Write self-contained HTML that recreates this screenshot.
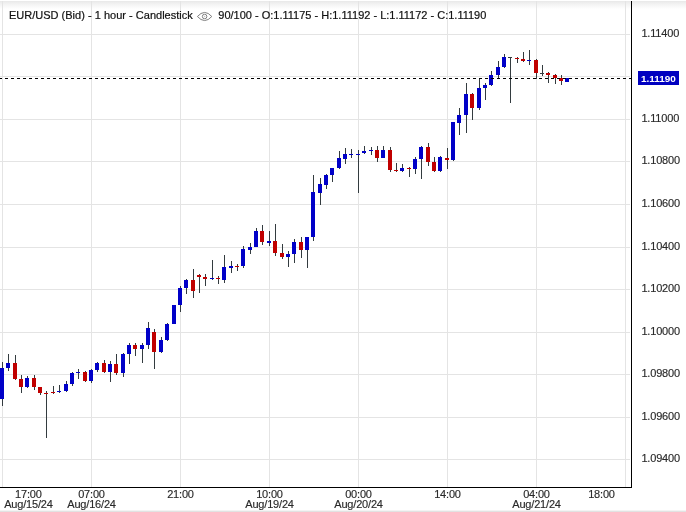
<!DOCTYPE html>
<html><head><meta charset="utf-8"><title>EUR/USD</title>
<style>
html,body{margin:0;padding:0;background:#fff;}
body{will-change:transform;width:686px;height:512px;position:relative;overflow:hidden;font-family:"Liberation Sans",sans-serif;font-size:11px;color:#222;}
#top{position:absolute;left:0;top:1px;width:686px;height:8px;background:linear-gradient(#e8e8e8 0%,#efefef 25%,#f7f7f7 60%,#ffffff 100%);}
#bot{position:absolute;left:0;top:510px;width:686px;height:2px;background:linear-gradient(#f6f6f6 0%,#f0f0f0 50%,#e4e4e4 51%,#e0e0e0 100%);}
svg{position:absolute;left:0;top:0;}
.t{position:absolute;top:9px;line-height:12px;white-space:pre;color:#111;-webkit-text-stroke:0.2px #111;letter-spacing:0.03px;}
.yl{position:absolute;left:641.4px;letter-spacing:-0.17px;line-height:12px;color:#2a2a2a;-webkit-text-stroke:0.15px #2a2a2a;white-space:pre;}
.xl{position:absolute;top:489px;width:80px;text-align:center;letter-spacing:-0.18px;line-height:10px;color:#2a2a2a;-webkit-text-stroke:0.15px #2a2a2a;white-space:pre;}
#pl{position:absolute;left:638px;top:71px;width:41px;height:14px;background:#0000c0;color:#fff;font-weight:bold;font-size:9.95px;line-height:15px;text-align:center;}
</style></head><body>
<div id="top"></div>
<svg width="686" height="512" viewBox="0 0 686 512" shape-rendering="crispEdges">
<rect x="2" y="1" width="1" height="486" fill="#e4e4e4"/>
<rect x="91" y="1" width="1" height="486" fill="#e4e4e4"/>
<rect x="180" y="1" width="1" height="486" fill="#e4e4e4"/>
<rect x="269" y="1" width="1" height="486" fill="#e4e4e4"/>
<rect x="358" y="1" width="1" height="486" fill="#e4e4e4"/>
<rect x="447" y="1" width="1" height="486" fill="#e4e4e4"/>
<rect x="536" y="1" width="1" height="486" fill="#e4e4e4"/>
<rect x="625" y="1" width="1" height="486" fill="#e4e4e4"/>
<rect x="0" y="34" width="630" height="1" fill="#e4e4e4"/>
<rect x="0" y="76" width="630" height="1" fill="#e4e4e4"/>
<rect x="0" y="119" width="630" height="1" fill="#e4e4e4"/>
<rect x="0" y="161" width="630" height="1" fill="#e4e4e4"/>
<rect x="0" y="204" width="630" height="1" fill="#e4e4e4"/>
<rect x="0" y="247" width="630" height="1" fill="#e4e4e4"/>
<rect x="0" y="289" width="630" height="1" fill="#e4e4e4"/>
<rect x="0" y="332" width="630" height="1" fill="#e4e4e4"/>
<rect x="0" y="374" width="630" height="1" fill="#e4e4e4"/>
<rect x="0" y="417" width="630" height="1" fill="#e4e4e4"/>
<rect x="0" y="459" width="630" height="1" fill="#e4e4e4"/>
<rect x="2" y="362" width="1" height="44" fill="#333b3f"/>
<rect x="0" y="368" width="4" height="31" fill="#0000c8"/>
<rect x="8" y="354" width="1" height="17" fill="#333b3f"/>
<rect x="6" y="363" width="4" height="5" fill="#0000c8"/>
<rect x="15" y="355" width="1" height="25" fill="#333b3f"/>
<rect x="13" y="363" width="4" height="16" fill="#c00000"/>
<rect x="21" y="375" width="1" height="18" fill="#333b3f"/>
<rect x="19" y="379" width="4" height="8" fill="#c00000"/>
<rect x="27" y="376" width="1" height="12" fill="#333b3f"/>
<rect x="25" y="378" width="4" height="9" fill="#0000c8"/>
<rect x="34" y="375" width="1" height="15" fill="#333b3f"/>
<rect x="32" y="378" width="4" height="9" fill="#c00000"/>
<rect x="40" y="387" width="1" height="8" fill="#333b3f"/>
<rect x="38" y="387" width="4" height="6" fill="#c00000"/>
<rect x="46" y="391" width="1" height="47" fill="#333b3f"/>
<rect x="44" y="393" width="4" height="1" fill="#c00000"/>
<rect x="53" y="386" width="1" height="8" fill="#333b3f"/>
<rect x="51" y="392" width="4" height="1" fill="#c00000"/>
<rect x="59" y="385" width="1" height="8" fill="#333b3f"/>
<rect x="57" y="391" width="4" height="1" fill="#0000c8"/>
<rect x="66" y="381" width="1" height="11" fill="#333b3f"/>
<rect x="64" y="384" width="4" height="7" fill="#0000c8"/>
<rect x="72" y="372" width="1" height="14" fill="#333b3f"/>
<rect x="70" y="373" width="4" height="11" fill="#0000c8"/>
<rect x="78" y="369" width="1" height="10" fill="#333b3f"/>
<rect x="76" y="372" width="4" height="1" fill="#0000c8"/>
<rect x="85" y="371" width="1" height="11" fill="#333b3f"/>
<rect x="83" y="372" width="4" height="9" fill="#c00000"/>
<rect x="91" y="369" width="1" height="14" fill="#333b3f"/>
<rect x="89" y="370" width="4" height="11" fill="#0000c8"/>
<rect x="97" y="362" width="1" height="10" fill="#333b3f"/>
<rect x="95" y="363" width="4" height="7" fill="#0000c8"/>
<rect x="104" y="360" width="1" height="13" fill="#333b3f"/>
<rect x="102" y="363" width="4" height="9" fill="#c00000"/>
<rect x="110" y="361" width="1" height="21" fill="#333b3f"/>
<rect x="108" y="364" width="4" height="8" fill="#0000c8"/>
<rect x="116" y="354" width="1" height="21" fill="#333b3f"/>
<rect x="114" y="364" width="4" height="9" fill="#c00000"/>
<rect x="123" y="353" width="1" height="24" fill="#333b3f"/>
<rect x="121" y="354" width="4" height="19" fill="#0000c8"/>
<rect x="129" y="343" width="1" height="21" fill="#333b3f"/>
<rect x="127" y="345" width="4" height="9" fill="#0000c8"/>
<rect x="135" y="343" width="1" height="13" fill="#333b3f"/>
<rect x="133" y="345" width="4" height="4" fill="#c00000"/>
<rect x="142" y="343" width="1" height="20" fill="#333b3f"/>
<rect x="140" y="345" width="4" height="4" fill="#0000c8"/>
<rect x="148" y="322" width="1" height="27" fill="#333b3f"/>
<rect x="146" y="328" width="4" height="17" fill="#0000c8"/>
<rect x="154" y="329" width="1" height="40" fill="#333b3f"/>
<rect x="152" y="332" width="4" height="20" fill="#c00000"/>
<rect x="161" y="337" width="1" height="16" fill="#333b3f"/>
<rect x="159" y="340" width="4" height="12" fill="#0000c8"/>
<rect x="167" y="323" width="1" height="18" fill="#333b3f"/>
<rect x="165" y="324" width="4" height="16" fill="#0000c8"/>
<rect x="174" y="305" width="1" height="19" fill="#333b3f"/>
<rect x="172" y="305" width="4" height="19" fill="#0000c8"/>
<rect x="180" y="286" width="1" height="26" fill="#333b3f"/>
<rect x="178" y="288" width="4" height="17" fill="#0000c8"/>
<rect x="186" y="279" width="1" height="15" fill="#333b3f"/>
<rect x="184" y="280" width="4" height="8" fill="#0000c8"/>
<rect x="193" y="269" width="1" height="29" fill="#333b3f"/>
<rect x="191" y="280" width="4" height="11" fill="#c00000"/>
<rect x="199" y="274" width="1" height="19" fill="#333b3f"/>
<rect x="197" y="275" width="4" height="2" fill="#c00000"/>
<rect x="205" y="274" width="1" height="12" fill="#333b3f"/>
<rect x="203" y="277" width="4" height="2" fill="#c00000"/>
<rect x="212" y="260" width="1" height="20" fill="#333b3f"/>
<rect x="210" y="278" width="4" height="1" fill="#0000c8"/>
<rect x="218" y="276" width="1" height="8" fill="#333b3f"/>
<rect x="216" y="278" width="4" height="1" fill="#c00000"/>
<rect x="224" y="255" width="1" height="28" fill="#333b3f"/>
<rect x="222" y="267" width="4" height="13" fill="#0000c8"/>
<rect x="231" y="261" width="1" height="12" fill="#333b3f"/>
<rect x="229" y="266" width="4" height="2" fill="#0000c8"/>
<rect x="237" y="264" width="1" height="7" fill="#333b3f"/>
<rect x="235" y="266" width="4" height="1" fill="#c00000"/>
<rect x="243" y="246" width="1" height="22" fill="#333b3f"/>
<rect x="241" y="249" width="4" height="17" fill="#0000c8"/>
<rect x="250" y="243" width="1" height="11" fill="#333b3f"/>
<rect x="248" y="247" width="4" height="3" fill="#0000c8"/>
<rect x="256" y="228" width="1" height="19" fill="#333b3f"/>
<rect x="254" y="231" width="4" height="16" fill="#0000c8"/>
<rect x="262" y="225" width="1" height="20" fill="#333b3f"/>
<rect x="260" y="231" width="4" height="11" fill="#c00000"/>
<rect x="269" y="231" width="1" height="15" fill="#333b3f"/>
<rect x="267" y="241" width="4" height="2" fill="#0000c8"/>
<rect x="275" y="224" width="1" height="32" fill="#333b3f"/>
<rect x="273" y="241" width="4" height="12" fill="#c00000"/>
<rect x="282" y="244" width="1" height="15" fill="#333b3f"/>
<rect x="280" y="253" width="4" height="4" fill="#c00000"/>
<rect x="288" y="251" width="1" height="16" fill="#333b3f"/>
<rect x="286" y="254" width="4" height="3" fill="#0000c8"/>
<rect x="294" y="239" width="1" height="24" fill="#333b3f"/>
<rect x="292" y="242" width="4" height="12" fill="#0000c8"/>
<rect x="301" y="237" width="1" height="21" fill="#333b3f"/>
<rect x="299" y="242" width="4" height="8" fill="#c00000"/>
<rect x="307" y="237" width="1" height="31" fill="#333b3f"/>
<rect x="305" y="237" width="4" height="13" fill="#0000c8"/>
<rect x="313" y="175" width="1" height="66" fill="#333b3f"/>
<rect x="311" y="192" width="4" height="45" fill="#0000c8"/>
<rect x="320" y="178" width="1" height="27" fill="#333b3f"/>
<rect x="318" y="184" width="4" height="9" fill="#0000c8"/>
<rect x="326" y="174" width="1" height="15" fill="#333b3f"/>
<rect x="324" y="175" width="4" height="10" fill="#0000c8"/>
<rect x="332" y="168" width="1" height="14" fill="#333b3f"/>
<rect x="330" y="168" width="4" height="7" fill="#0000c8"/>
<rect x="339" y="151" width="1" height="18" fill="#333b3f"/>
<rect x="337" y="158" width="4" height="10" fill="#0000c8"/>
<rect x="345" y="148" width="1" height="16" fill="#333b3f"/>
<rect x="343" y="154" width="4" height="5" fill="#0000c8"/>
<rect x="351" y="149" width="1" height="9" fill="#333b3f"/>
<rect x="349" y="154" width="4" height="1" fill="#0000c8"/>
<rect x="358" y="150" width="1" height="43" fill="#333b3f"/>
<rect x="356" y="154" width="4" height="1" fill="#0000c8"/>
<rect x="364" y="146" width="1" height="8" fill="#333b3f"/>
<rect x="362" y="151" width="4" height="2" fill="#0000c8"/>
<rect x="371" y="147" width="1" height="8" fill="#333b3f"/>
<rect x="369" y="150" width="4" height="1" fill="#0000c8"/>
<rect x="377" y="146" width="1" height="16" fill="#333b3f"/>
<rect x="375" y="150" width="4" height="8" fill="#c00000"/>
<rect x="383" y="146" width="1" height="12" fill="#333b3f"/>
<rect x="381" y="150" width="4" height="8" fill="#0000c8"/>
<rect x="390" y="147" width="1" height="25" fill="#333b3f"/>
<rect x="388" y="150" width="4" height="20" fill="#c00000"/>
<rect x="396" y="163" width="1" height="9" fill="#333b3f"/>
<rect x="394" y="170" width="4" height="1" fill="#c00000"/>
<rect x="402" y="164" width="1" height="8" fill="#333b3f"/>
<rect x="400" y="168" width="4" height="3" fill="#0000c8"/>
<rect x="409" y="167" width="1" height="10" fill="#333b3f"/>
<rect x="407" y="168" width="4" height="1" fill="#c00000"/>
<rect x="415" y="157" width="1" height="17" fill="#333b3f"/>
<rect x="413" y="159" width="4" height="10" fill="#0000c8"/>
<rect x="421" y="146" width="1" height="33" fill="#333b3f"/>
<rect x="419" y="147" width="4" height="12" fill="#0000c8"/>
<rect x="428" y="143" width="1" height="23" fill="#333b3f"/>
<rect x="426" y="147" width="4" height="15" fill="#c00000"/>
<rect x="434" y="157" width="1" height="15" fill="#333b3f"/>
<rect x="432" y="162" width="4" height="9" fill="#c00000"/>
<rect x="440" y="156" width="1" height="16" fill="#333b3f"/>
<rect x="438" y="157" width="4" height="14" fill="#0000c8"/>
<rect x="447" y="148" width="1" height="21" fill="#333b3f"/>
<rect x="445" y="158" width="4" height="2" fill="#c00000"/>
<rect x="453" y="122" width="1" height="39" fill="#333b3f"/>
<rect x="451" y="122" width="4" height="38" fill="#0000c8"/>
<rect x="459" y="108" width="1" height="27" fill="#333b3f"/>
<rect x="457" y="115" width="4" height="8" fill="#0000c8"/>
<rect x="466" y="83" width="1" height="50" fill="#333b3f"/>
<rect x="464" y="94" width="4" height="21" fill="#0000c8"/>
<rect x="472" y="93" width="1" height="27" fill="#333b3f"/>
<rect x="470" y="94" width="4" height="14" fill="#c00000"/>
<rect x="479" y="78" width="1" height="32" fill="#333b3f"/>
<rect x="477" y="88" width="4" height="20" fill="#0000c8"/>
<rect x="485" y="83" width="1" height="17" fill="#333b3f"/>
<rect x="483" y="85" width="4" height="3" fill="#0000c8"/>
<rect x="491" y="71" width="1" height="15" fill="#333b3f"/>
<rect x="489" y="75" width="4" height="10" fill="#0000c8"/>
<rect x="498" y="61" width="1" height="17" fill="#333b3f"/>
<rect x="496" y="67" width="4" height="8" fill="#0000c8"/>
<rect x="504" y="54" width="1" height="14" fill="#333b3f"/>
<rect x="502" y="57" width="4" height="10" fill="#0000c8"/>
<rect x="510" y="57" width="1" height="46" fill="#333b3f"/>
<rect x="508" y="57" width="4" height="1" fill="#333b3f"/>
<rect x="517" y="57" width="1" height="6" fill="#333b3f"/>
<rect x="515" y="58" width="4" height="1" fill="#c00000"/>
<rect x="523" y="52" width="1" height="10" fill="#333b3f"/>
<rect x="521" y="59" width="4" height="2" fill="#c00000"/>
<rect x="529" y="50" width="1" height="15" fill="#333b3f"/>
<rect x="527" y="60" width="4" height="1" fill="#0000c8"/>
<rect x="536" y="59" width="1" height="20" fill="#333b3f"/>
<rect x="534" y="60" width="4" height="13" fill="#c00000"/>
<rect x="542" y="65" width="1" height="11" fill="#333b3f"/>
<rect x="540" y="73" width="4" height="1" fill="#333b3f"/>
<rect x="548" y="72" width="1" height="11" fill="#333b3f"/>
<rect x="546" y="73" width="4" height="2" fill="#c00000"/>
<rect x="555" y="74" width="1" height="10" fill="#333b3f"/>
<rect x="553" y="75" width="4" height="3" fill="#c00000"/>
<rect x="561" y="75" width="1" height="10" fill="#333b3f"/>
<rect x="559" y="78" width="4" height="3" fill="#c00000"/>
<rect x="567" y="78" width="1" height="4" fill="#333b3f"/>
<rect x="565" y="78" width="4" height="4" fill="#0000c8"/>
<rect x="0" y="78" width="2" height="1" fill="#000"/>
<rect x="5" y="78" width="3" height="1" fill="#000"/>
<rect x="11" y="78" width="3" height="1" fill="#000"/>
<rect x="17" y="78" width="3" height="1" fill="#000"/>
<rect x="23" y="78" width="3" height="1" fill="#000"/>
<rect x="29" y="78" width="3" height="1" fill="#000"/>
<rect x="35" y="78" width="3" height="1" fill="#000"/>
<rect x="41" y="78" width="3" height="1" fill="#000"/>
<rect x="47" y="78" width="3" height="1" fill="#000"/>
<rect x="53" y="78" width="3" height="1" fill="#000"/>
<rect x="59" y="78" width="3" height="1" fill="#000"/>
<rect x="65" y="78" width="3" height="1" fill="#000"/>
<rect x="71" y="78" width="3" height="1" fill="#000"/>
<rect x="77" y="78" width="3" height="1" fill="#000"/>
<rect x="83" y="78" width="3" height="1" fill="#000"/>
<rect x="89" y="78" width="3" height="1" fill="#000"/>
<rect x="95" y="78" width="3" height="1" fill="#000"/>
<rect x="101" y="78" width="3" height="1" fill="#000"/>
<rect x="107" y="78" width="3" height="1" fill="#000"/>
<rect x="113" y="78" width="3" height="1" fill="#000"/>
<rect x="119" y="78" width="3" height="1" fill="#000"/>
<rect x="125" y="78" width="3" height="1" fill="#000"/>
<rect x="131" y="78" width="3" height="1" fill="#000"/>
<rect x="137" y="78" width="3" height="1" fill="#000"/>
<rect x="143" y="78" width="3" height="1" fill="#000"/>
<rect x="149" y="78" width="3" height="1" fill="#000"/>
<rect x="155" y="78" width="3" height="1" fill="#000"/>
<rect x="161" y="78" width="3" height="1" fill="#000"/>
<rect x="167" y="78" width="3" height="1" fill="#000"/>
<rect x="173" y="78" width="3" height="1" fill="#000"/>
<rect x="179" y="78" width="3" height="1" fill="#000"/>
<rect x="185" y="78" width="3" height="1" fill="#000"/>
<rect x="191" y="78" width="3" height="1" fill="#000"/>
<rect x="197" y="78" width="3" height="1" fill="#000"/>
<rect x="203" y="78" width="3" height="1" fill="#000"/>
<rect x="209" y="78" width="3" height="1" fill="#000"/>
<rect x="215" y="78" width="3" height="1" fill="#000"/>
<rect x="221" y="78" width="3" height="1" fill="#000"/>
<rect x="227" y="78" width="3" height="1" fill="#000"/>
<rect x="233" y="78" width="3" height="1" fill="#000"/>
<rect x="239" y="78" width="3" height="1" fill="#000"/>
<rect x="245" y="78" width="3" height="1" fill="#000"/>
<rect x="251" y="78" width="3" height="1" fill="#000"/>
<rect x="257" y="78" width="3" height="1" fill="#000"/>
<rect x="263" y="78" width="3" height="1" fill="#000"/>
<rect x="269" y="78" width="3" height="1" fill="#000"/>
<rect x="275" y="78" width="3" height="1" fill="#000"/>
<rect x="281" y="78" width="3" height="1" fill="#000"/>
<rect x="287" y="78" width="3" height="1" fill="#000"/>
<rect x="293" y="78" width="3" height="1" fill="#000"/>
<rect x="299" y="78" width="3" height="1" fill="#000"/>
<rect x="305" y="78" width="3" height="1" fill="#000"/>
<rect x="311" y="78" width="3" height="1" fill="#000"/>
<rect x="317" y="78" width="3" height="1" fill="#000"/>
<rect x="323" y="78" width="3" height="1" fill="#000"/>
<rect x="329" y="78" width="3" height="1" fill="#000"/>
<rect x="335" y="78" width="3" height="1" fill="#000"/>
<rect x="341" y="78" width="3" height="1" fill="#000"/>
<rect x="347" y="78" width="3" height="1" fill="#000"/>
<rect x="353" y="78" width="3" height="1" fill="#000"/>
<rect x="359" y="78" width="3" height="1" fill="#000"/>
<rect x="365" y="78" width="3" height="1" fill="#000"/>
<rect x="371" y="78" width="3" height="1" fill="#000"/>
<rect x="377" y="78" width="3" height="1" fill="#000"/>
<rect x="383" y="78" width="3" height="1" fill="#000"/>
<rect x="389" y="78" width="3" height="1" fill="#000"/>
<rect x="395" y="78" width="3" height="1" fill="#000"/>
<rect x="401" y="78" width="3" height="1" fill="#000"/>
<rect x="407" y="78" width="3" height="1" fill="#000"/>
<rect x="413" y="78" width="3" height="1" fill="#000"/>
<rect x="419" y="78" width="3" height="1" fill="#000"/>
<rect x="425" y="78" width="3" height="1" fill="#000"/>
<rect x="431" y="78" width="3" height="1" fill="#000"/>
<rect x="437" y="78" width="3" height="1" fill="#000"/>
<rect x="443" y="78" width="3" height="1" fill="#000"/>
<rect x="449" y="78" width="3" height="1" fill="#000"/>
<rect x="455" y="78" width="3" height="1" fill="#000"/>
<rect x="461" y="78" width="3" height="1" fill="#000"/>
<rect x="467" y="78" width="3" height="1" fill="#000"/>
<rect x="473" y="78" width="3" height="1" fill="#000"/>
<rect x="479" y="78" width="3" height="1" fill="#000"/>
<rect x="485" y="78" width="3" height="1" fill="#000"/>
<rect x="491" y="78" width="3" height="1" fill="#000"/>
<rect x="497" y="78" width="3" height="1" fill="#000"/>
<rect x="503" y="78" width="3" height="1" fill="#000"/>
<rect x="509" y="78" width="3" height="1" fill="#000"/>
<rect x="515" y="78" width="3" height="1" fill="#000"/>
<rect x="521" y="78" width="3" height="1" fill="#000"/>
<rect x="527" y="78" width="3" height="1" fill="#000"/>
<rect x="533" y="78" width="3" height="1" fill="#000"/>
<rect x="539" y="78" width="3" height="1" fill="#000"/>
<rect x="545" y="78" width="3" height="1" fill="#000"/>
<rect x="551" y="78" width="3" height="1" fill="#000"/>
<rect x="557" y="78" width="3" height="1" fill="#000"/>
<rect x="563" y="78" width="3" height="1" fill="#000"/>
<rect x="569" y="78" width="3" height="1" fill="#000"/>
<rect x="575" y="78" width="3" height="1" fill="#000"/>
<rect x="581" y="78" width="3" height="1" fill="#000"/>
<rect x="587" y="78" width="3" height="1" fill="#000"/>
<rect x="593" y="78" width="3" height="1" fill="#000"/>
<rect x="599" y="78" width="3" height="1" fill="#000"/>
<rect x="605" y="78" width="3" height="1" fill="#000"/>
<rect x="611" y="78" width="3" height="1" fill="#000"/>
<rect x="617" y="78" width="3" height="1" fill="#000"/>
<rect x="623" y="78" width="3" height="1" fill="#000"/>
<rect x="629" y="78" width="2" height="1" fill="#000"/>
<rect x="631" y="1" width="1" height="487" fill="#000"/>
<rect x="0" y="487" width="632" height="1" fill="#000"/>
</svg>
<div class="t" style="left:8.9px;letter-spacing:0.015px">EUR/USD (Bid) - 1 hour - Candlestick</div>
<svg width="18" height="12" viewBox="0 0 18 12" style="left:196px;top:10px" shape-rendering="auto"><path d="M1.4 6.5 Q8.6 -1.6 15.8 6.5 Q8.6 14.6 1.4 6.5 Z" fill="none" stroke="#808080" stroke-width="1"/><circle cx="8.6" cy="6.5" r="2.25" fill="none" stroke="#808080" stroke-width="1"/><circle cx="8.6" cy="6.5" r="0.7" fill="#c4c4c4"/></svg>
<div class="t" style="left:218.3px;letter-spacing:0">90/100 - O:1.11175 - H:1.11192 - L:1.11172 - C:1.11190</div>
<div class="yl" style="top:27px">1.11400</div><div class="yl" style="top:112px">1.11000</div><div class="yl" style="top:154px">1.10800</div><div class="yl" style="top:197px">1.10600</div><div class="yl" style="top:240px">1.10400</div><div class="yl" style="top:282px">1.10200</div><div class="yl" style="top:325px">1.10000</div><div class="yl" style="top:367px">1.09800</div><div class="yl" style="top:410px">1.09600</div><div class="yl" style="top:452px">1.09400</div>
<div id="pl">1.11190</div>
<div class="xl" style="left:-11.600000000000001px">17:00<br>Aug/15/24</div><div class="xl" style="left:51.5px">07:00<br>Aug/16/24</div><div class="xl" style="left:140.5px">21:00<br></div><div class="xl" style="left:229.5px">10:00<br>Aug/19/24</div><div class="xl" style="left:318.5px">00:00<br>Aug/20/24</div><div class="xl" style="left:407.5px">14:00<br></div><div class="xl" style="left:496.5px">04:00<br>Aug/21/24</div><div class="xl" style="left:561.5px">18:00<br></div>
<div id="bot"></div>
</body></html>
